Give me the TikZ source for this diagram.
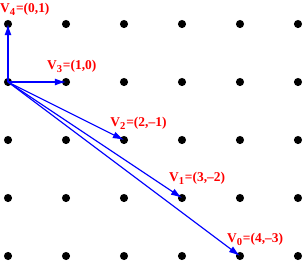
\documentclass[tikz,border=0pt]{standalone}
\usepackage{fontspec}
\setmainfont{Liberation Serif}
\usepackage{tikz}
\usetikzlibrary{arrows.meta, positioning, calc}
\definecolor{vecblue}{HTML}{0000FF}
\definecolor{labred}{HTML}{FF0000}

\newcommand{\veclab}[2]{\textbf{V\raisebox{-0.5ex}{\fontsize{5.2}{6}\selectfont\bfseries #1}\hspace{0.4pt}=(#2)}}

\begin{document}
\begin{tikzpicture}[
    dot/.style={circle, fill=black, inner sep=0pt, minimum size=0.14cm},
    vec/.style={-{Latex[length=5.5pt,width=3.4pt]}, line width=0.55pt, color=vecblue},
    lbl/.style={text=labred, font=\fontsize{6.6}{7}\selectfont, inner sep=0pt}
]
    \useasboundingbox (-0.138,-3.103) rectangle (5.121,1.414);

    % lattice points
    \foreach \i in {0,...,5}
        \foreach \k in {0,...,4}
            \node[dot] (d\i\k) at (\i,\k-3) {};

    % vectors from the origin
    \draw[vec] (d03.center) -- (d04.center);
    \draw[vec] (d03.center) -- (d13.center);
    \draw[vec] (d03.center) -- (d22.center);
    \draw[vec] (d03.center) -- (d31.center);
    \draw[vec] (d03.center) -- (d40.center);

    % labels
    \node[lbl] (v4) at ($(d04)+(0.29,0.25)$) {\veclab{4}{0,1}};
    \node[lbl] (v3) at ($(d13)+(0.10,0.27)$) {\veclab{3}{1,0}};
    \node[lbl] (v2) at ($(d22)+(0.25,0.28)$) {\veclab{2}{2,--1}};
    \node[lbl] (v1) at ($(d31)+(0.26,0.34)$) {\veclab{1}{3,--2}};
    \node[lbl] (v0) at ($(d40)+(0.26,0.28)$) {\veclab{0}{4,--3}};
\end{tikzpicture}
\end{document}
